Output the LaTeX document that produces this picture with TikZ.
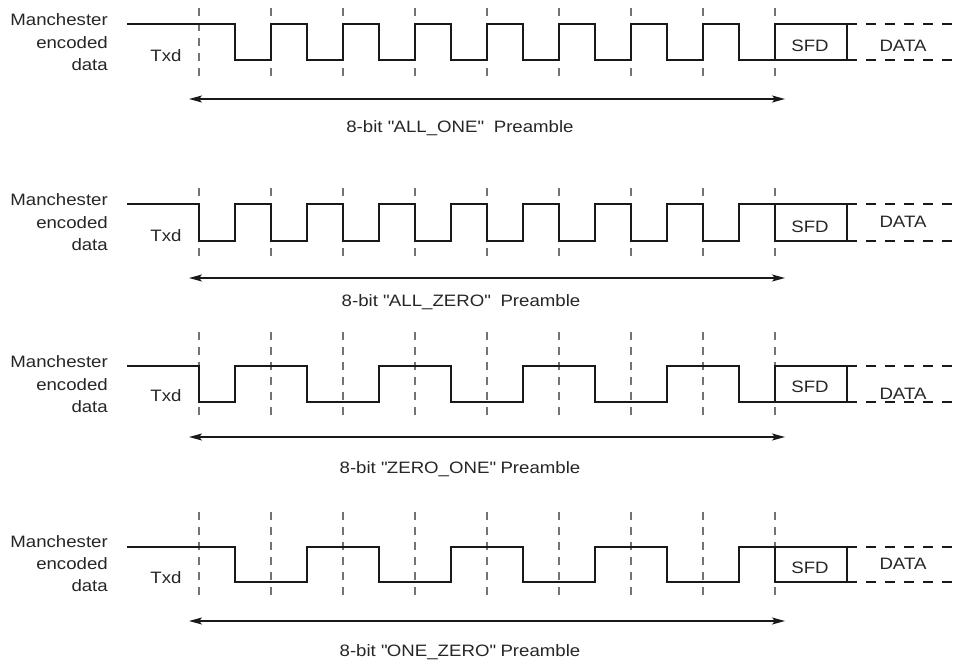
\documentclass[tikz,border=0pt]{standalone}
\usepackage{fontspec}
\setmainfont{Liberation Sans}[FakeStretch=1.13]
\usetikzlibrary{arrows.meta}
\newcommand{\dqt}{\XeTeXglyph\XeTeXcharglyph"22\relax}
\begin{document}
\begin{tikzpicture}[x=1pt,y=-1pt,
  txt/.style={font=\fontsize{16.5}{20}\selectfont, text=black!85, inner sep=0pt},
  wave/.style={line width=2pt, black!90, line join=miter},
  bitgrid/.style={line width=1.2pt, black!55, dash pattern=on 8pt off 7pt},
  datadash/.style={line width=2pt, black!90, dash pattern=on 10pt off 9pt},
  span/.style={line width=1.6pt, black!90, {Stealth[length=13pt,width=7pt,inset=3pt]}-{Stealth[length=13pt,width=7pt,inset=3pt]}}]
\useasboundingbox (0,0) rectangle (966,662);

% ---------- grid lines ----------
\foreach \top/\bot/\p in {8/78/1, 188/258/2, 332/420/3, 512/600/4}{
  \foreach \k in {0,...,8}{
    \draw[bitgrid] ({199+72*\k},\top) -- ({199+72*\k},\bot);
  }
}

% ---------- left labels ----------
\foreach \a/\b/\c/\t/\p in {25.3/48/70.5/61.7/1, 205/228/250.5/241.7/2, 367.5/390/412.5/401.7/3, 547/569.5/591.7/583/4}{
  \node[txt, anchor=base east] (man\p) at (108,\a) {Manchester};
  \node[txt, anchor=base east] (enc\p) at (108,\b) {encoded};
  \node[txt, anchor=base east] (dat\p) at (108,\c) {data};
  \node[txt, anchor=base] (txd\p) at (166,\t) {Txd};
}

% ---------- waveforms ----------
% ALL_ONE
\draw[wave] (127,24) -- (199,24)
  \foreach \k in {0,...,7}{ -- ++(36,0) -- ++(0,36) -- ++(36,0) -- ++(0,-36)};
% ALL_ZERO
\draw[wave] (127,204) -- (199,204)
  \foreach \k in {0,...,7}{ -- ++(0,37) -- ++(36,0) -- ++(0,-37) -- ++(36,0)};
% ZERO_ONE
\draw[wave] (127,366) -- (199,366) -- (199,402) -- (235,402) -- (235,366)
  -- (307,366) -- (307,402) -- (379,402) -- (379,366)
  -- (451,366) -- (451,402) -- (523,402) -- (523,366)
  -- (595,366) -- (595,402) -- (667,402) -- (667,366)
  -- (739,366) -- (739,402) -- (775,402) -- (775,366);
% ONE_ZERO
\draw[wave] (127,547) -- (235,547) -- (235,582) -- (307,582) -- (307,547)
  -- (379,547) -- (379,582) -- (451,582) -- (451,547)
  -- (523,547) -- (523,582) -- (595,582) -- (595,547)
  -- (667,547) -- (667,582) -- (739,582) -- (739,547) -- (775,547);

% ---------- SFD / DATA ----------
\foreach \H/\L/\s/\d/\p in {24/60/51.5/51.5/1, 204/241/232/227.5/2, 366/402/392.5/399/3, 547/582/573/569/4}{
  \draw[wave] (775,\H) rectangle (847,\L);
  \draw[datadash] (847,\H) -- (958,\H);
  \draw[datadash] (847,\L) -- (958,\L);
  \node[txt, anchor=base] (sfd\p) at (810,\s) {SFD};
  \node[txt, anchor=base] (data\p) at (903,\d) {DATA};
}

% ---------- preamble spans ----------
\foreach \y/\p in {99/1, 278/2, 437/3, 621/4}{
  \coordinate (sl\p) at (189,\y);
  \coordinate (sr\p) at (785,\y);
  \draw[span] (sl\p) -- (sr\p);
}
\node[txt, anchor=base] (lab1) at (460,132) {8-bit \dqt ALL\_ONE\dqt\ \ Preamble};
\node[txt, anchor=base] (lab2) at (461,306) {8-bit \dqt ALL\_ZERO\dqt\ \ Preamble};
\node[txt, anchor=base] (lab3) at (460,473) {8-bit \dqt ZERO\_ONE\dqt\ Preamble};
\node[txt, anchor=base] (lab4) at (460,656) {8-bit \dqt ONE\_ZERO\dqt\ Preamble};
\end{tikzpicture}
\end{document}
